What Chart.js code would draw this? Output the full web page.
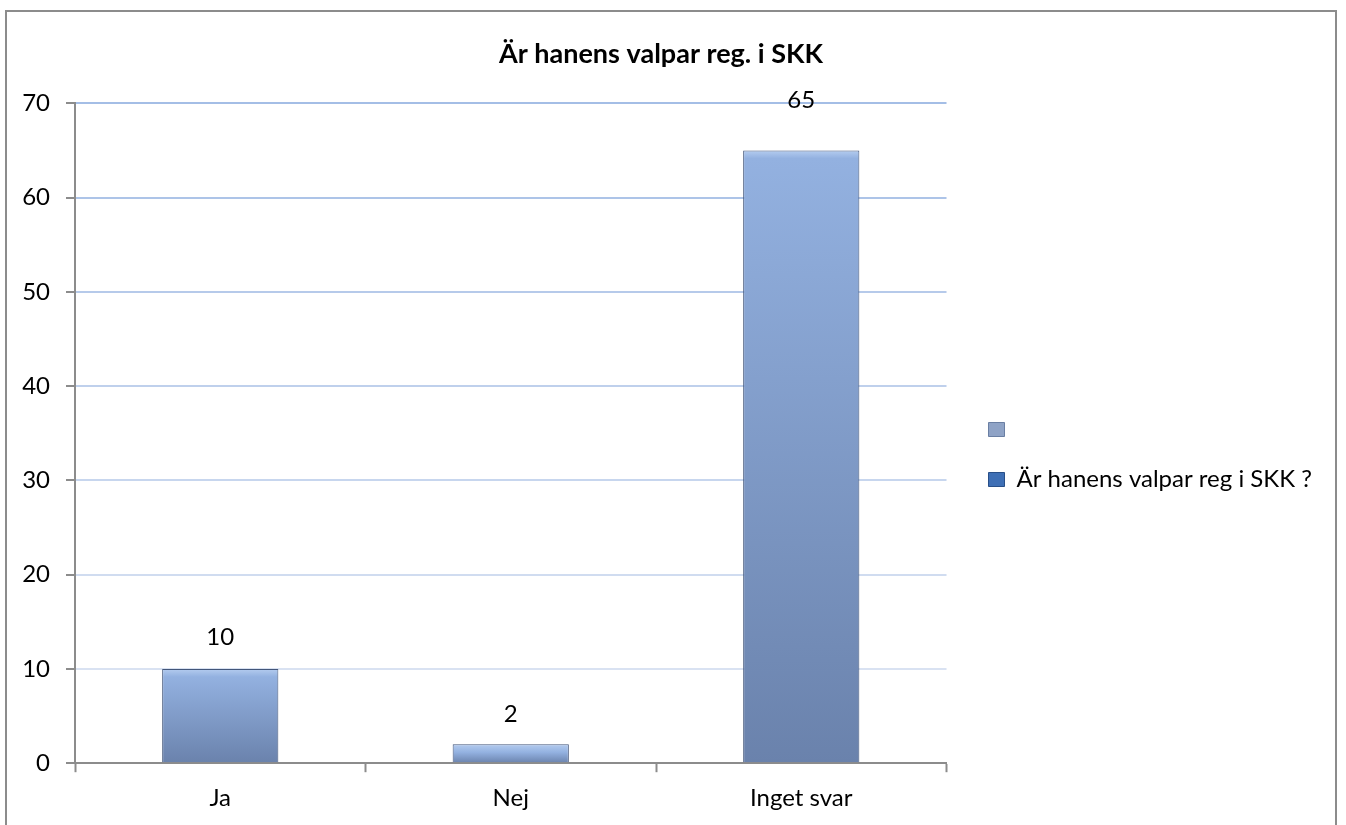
<!DOCTYPE html>
<html lang="sv">
<head>
<meta charset="UTF-8">
<title>Är hanens valpar reg. i SKK</title>
<script src="https://cdn.jsdelivr.net/npm/chart.js"></script>
<style>
  html, body { margin: 0; padding: 0; background: #fff; overflow: hidden; }
  #wrap { position: relative; width: 1346px; height: 825px; }
  #frame {
    position: absolute; left: 5px; top: 10px; width: 1332px; height: 830px;
    border: 2px solid #8c8c8c; box-sizing: border-box; pointer-events: none;
  }
</style>
</head>
<body>
<div id="wrap">
  <canvas id="chart" width="1346" height="825"></canvas>
  <div id="frame"></div>
</div>
<script>
// data
const categories = ['Ja', 'Nej', 'Inget svar'];
const answers = [10, 2, 65];
const emptySeries = [null, null, null];
const seriesLabels = ['', 'Är hanens valpar reg i SKK ?'];
const yTicks = [0, 10, 20, 30, 40, 50, 60, 70];

const FONT = 'Lato, "Open Sans", sans-serif';

// per bar vertical gradient (light top, darker bottom)
function barFill(ctx) {
  const chart = ctx.chart;
  const y = chart.scales.y;
  if (!y || ctx.parsed == null) return '#8ea9d6';
  const top = y.getPixelForValue(ctx.parsed.y);
  const base = y.getPixelForValue(0);
  const g = chart.ctx.createLinearGradient(0, top, 0, base);
  g.addColorStop(0, '#b4ccef');
  g.addColorStop(Math.min(0.5, 8 / Math.max(base - top, 1)), '#93b1e0');
  g.addColorStop(1, '#6a82ac');
  return g;
}

// gridlines fade towards the bottom
function gridColor(ctx) {
  const v = ctx.tick ? ctx.tick.value : 0;
  if (v === 0) return 'rgba(0,0,0,0)';
  const t = v / 70;
  const lo = [226, 232, 244], hi = [164, 190, 230];
  const c = lo.map((l, i) => Math.round(l + (hi[i] - l) * t));
  return `rgb(${c[0]},${c[1]},${c[2]})`;
}

const valueLabels = {
  id: 'valueLabels',
  afterDatasetsDraw(chart) {
    const meta = chart.getDatasetMeta(1);
    const offsets = [32, 30, 50];
    const c = chart.ctx;
    c.save();
    c.font = '24px ' + FONT;
    c.fillStyle = '#000';
    c.textAlign = 'center';
    c.textBaseline = 'middle';
    meta.data.forEach((bar, i) => {
      c.fillText(String(answers[i]), bar.x, bar.y - offsets[i]);
    });
    c.restore();
  }
};

// nudge legend and title a little, like the original
const nudge = {
  id: 'nudge',
  afterLayout(chart) {
    const lg = chart.legend;
    if (lg) {
      lg.left += 16; lg.right += 80;
      lg.top += 42; lg.bottom += 42;
    }
    const t = chart.titleBlock;
    if (t) { t.left += 30; t.right += 30; }
  }
};

new Chart(document.getElementById('chart'), {
  type: 'bar',
  data: {
    labels: categories,
    datasets: [
      {
        label: seriesLabels[0],
        data: emptySeries,
        backgroundColor: '#8fa6cc',
        grouped: false
      },
      {
        label: seriesLabels[1],
        data: answers,
        backgroundColor: barFill,
        borderColor: '#43567a',
        borderWidth: 1,
        grouped: false,
        barPercentage: 0.4,
        categoryPercentage: 1
      }
    ]
  },
  options: {
    responsive: false,
    animation: false,
    layout: { padding: { left: 0, right: 84, top: 0, bottom: 0 } },
    plugins: {
      title: {
        display: true,
        text: 'Är hanens valpar reg. i SKK',
        color: '#000',
        font: { family: FONT, size: 27, weight: 'bold' },
        padding: { top: 38, bottom: 33 }
      },
      legend: {
        position: 'right',
        align: 'center',
        labels: {
          color: '#000',
          font: { family: FONT, size: 24 },
          boxWidth: 16,
          boxHeight: 14,
          padding: 26,
          generateLabels(chart) {
            const fills = ['#8fa3c6', '#3e6fb5'];
            const strokes = ['#6a7fa3', '#284f88'];
            return chart.data.datasets.map((ds, i) => ({
              text: ds.label,
              fillStyle: fills[i],
              strokeStyle: strokes[i],
              lineWidth: 1,
              datasetIndex: i,
              hidden: false
            }));
          }
        }
      },
      tooltip: { enabled: false }
    },
    scales: {
      x: {
        offset: true,
        border: { color: '#8c8c8c', width: 2 },
        grid: {
          offset: true,
          drawOnChartArea: false,
          drawTicks: true,
          tickLength: 9,
          tickColor: '#8c8c8c',
          tickWidth: 2
        },
        ticks: {
          color: '#000',
          font: { family: FONT, size: 24 },
          padding: 12
        }
      },
      y: {
        min: 0,
        max: 70,
        afterBuildTicks(scale) {
          scale.ticks = yTicks.map(v => ({ value: v }));
        },
        afterFit(scale) { scale.width = 75; },
        border: { color: '#8c8c8c', width: 2 },
        grid: {
          color: gridColor,
          lineWidth: 2,
          drawTicks: true,
          tickLength: 9,
          tickColor: '#8c8c8c',
          tickWidth: 2
        },
        ticks: {
          color: '#000',
          font: { family: FONT, size: 24 },
          padding: 16
        }
      }
    }
  },
  plugins: [valueLabels, nudge]
});
</script>
</body>
</html>
